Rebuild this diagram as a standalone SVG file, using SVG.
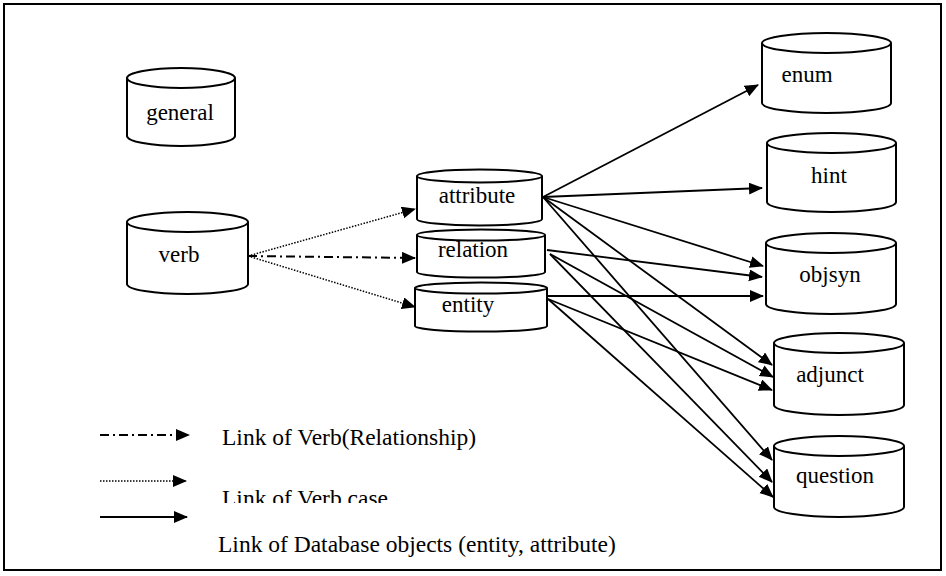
<svg xmlns="http://www.w3.org/2000/svg" width="946" height="576" viewBox="0 0 946 576">
  <style>
    .db { fill: #fff; stroke: #000; stroke-width: 2; }
    text { font-family: 'Liberation Serif', 'DejaVu Serif', serif; font-size: 23px; fill: #000; }
    .lbl { text-anchor: middle; }
    .leg { font-size: 23.5px; }
    .solid { stroke: #000; stroke-width: 1.8; fill: none; marker-end: url(#ah); }
    .dot { stroke: #000; stroke-width: 1.5; fill: none; stroke-dasharray: 1.5 1.5; marker-end: url(#ah); }
    .dashdot { stroke: #000; stroke-width: 2; fill: none; stroke-dasharray: 9 4 2 4; marker-end: url(#ah); }
  </style>
  <defs>
    <marker id="ah" markerUnits="userSpaceOnUse" markerWidth="15" markerHeight="13" refX="13" refY="6" orient="auto">
      <path d="M0,0 L14,6 L0,12 z" fill="#000"/>
    </marker>
    <clipPath id="cut">
      <rect x="0" y="470" width="946" height="33"/>
    </clipPath>
  </defs>

  <rect x="4" y="4" width="937" height="566" fill="#fff" stroke="#000" stroke-width="2"/>

  <!-- database cylinders -->
  <g id="general">
    <path class="db" d="M127,78 A54,10 0 0 1 235,78 L235,136 A54,10 0 0 1 127,136 Z M127,78 A54,10 0 0 0 235,78"/>
    <text class="lbl" x="180" y="120" font-family="Liberation Serif, serif">general</text>
  </g>
  <g id="verb">
    <path class="db" d="M127,222 A60.5,10 0 0 1 248,222 L248,284 A60.5,10 0 0 1 127,284 Z M127,222 A60.5,10 0 0 0 248,222"/>
    <text class="lbl" x="179" y="262" font-family="Liberation Serif, serif">verb</text>
  </g>
  <g id="attribute">
    <path class="db" d="M417,176 A62.5,6.5 0 0 1 542,176 L542,219 A62.5,6.5 0 0 1 417,219 Z M417,176 A62.5,6.5 0 0 0 542,176"/>
    <text class="lbl" x="477" y="203" font-family="Liberation Serif, serif">attribute</text>
  </g>
  <g id="relation">
    <path class="db" d="M417,235 A64,5.5 0 0 1 545,235 L545,272 A64,5.5 0 0 1 417,272 Z M417,235 A64,5.5 0 0 0 545,235"/>
    <text class="lbl" x="473" y="257" font-family="Liberation Serif, serif">relation</text>
  </g>
  <g id="entity">
    <path class="db" d="M415,288 A66,5.5 0 0 1 547,288 L547,326 A66,5.5 0 0 1 415,326 Z M415,288 A66,5.5 0 0 0 547,288"/>
    <text class="lbl" x="468" y="312" font-family="Liberation Serif, serif">entity</text>
  </g>
  <g id="enum">
    <path class="db" d="M762,43 A64.5,10 0 0 1 891,43 L891,103 A64.5,10 0 0 1 762,103 Z M762,43 A64.5,10 0 0 0 891,43"/>
    <text class="lbl" x="807" y="82" font-family="Liberation Serif, serif">enum</text>
  </g>
  <g id="hint">
    <path class="db" d="M767,143 A64.5,10 0 0 1 896,143 L896,202 A64.5,10 0 0 1 767,202 Z M767,143 A64.5,10 0 0 0 896,143"/>
    <text class="lbl" x="829" y="183" font-family="Liberation Serif, serif">hint</text>
  </g>
  <g id="objsyn">
    <path class="db" d="M766,243 A65,10 0 0 1 896,243 L896,304 A65,10 0 0 1 766,304 Z M766,243 A65,10 0 0 0 896,243"/>
    <text class="lbl" x="830" y="282" font-family="Liberation Serif, serif">objsyn</text>
  </g>
  <g id="adjunct">
    <path class="db" d="M774,343 A65,10 0 0 1 904,343 L904,405 A65,10 0 0 1 774,405 Z M774,343 A65,10 0 0 0 904,343"/>
    <text class="lbl" x="830" y="382" font-family="Liberation Serif, serif">adjunct</text>
  </g>
  <g id="question">
    <path class="db" d="M774,446 A65,10 0 0 1 904,446 L904,507 A65,10 0 0 1 774,507 Z M774,446 A65,10 0 0 0 904,446"/>
    <text class="lbl" x="835" y="483" font-family="Liberation Serif, serif">question</text>
  </g>

  <!-- links -->
  <g id="connectors">
    <line class="dot" x1="248" y1="256" x2="415" y2="209"/>
    <line class="dashdot" x1="248" y1="256" x2="415" y2="258"/>
    <line class="dot" x1="248" y1="256" x2="415" y2="307"/>

    <line class="solid" x1="543" y1="197" x2="758" y2="85"/>
    <line class="solid" x1="543" y1="197" x2="762" y2="188"/>
    <line class="solid" x1="543" y1="197" x2="763" y2="266"/>
    <line class="solid" x1="543" y1="197" x2="772" y2="365"/>
    <line class="solid" x1="543" y1="197" x2="772" y2="460"/>

    <line class="solid" x1="547" y1="250" x2="762" y2="277"/>
    <line class="solid" x1="550" y1="254" x2="773" y2="377"/>
    <line class="solid" x1="550" y1="254" x2="772" y2="482"/>

    <line class="solid" x1="547" y1="296" x2="763" y2="296"/>
    <line class="solid" x1="548" y1="299" x2="772" y2="390"/>
    <line class="solid" x1="548" y1="299" x2="773" y2="497"/>
  </g>

  <!-- legend -->
  <g id="legend">
    <line class="dashdot" x1="100" y1="435" x2="189" y2="435"/>
    <line class="dot" x1="100" y1="481" x2="186" y2="481"/>
    <line class="solid" x1="100" y1="517" x2="187" y2="517"/>
    <text class="leg" x="222" y="445" font-family="Liberation Serif, serif">Link of Verb(Relationship)</text>
    <text class="leg" x="222" y="506" clip-path="url(#cut)" font-family="Liberation Serif, serif">Link of Verb case</text>
    <text class="leg" x="218" y="552" font-family="Liberation Serif, serif">Link of Database objects (entity, attribute)</text>
  </g>
</svg>
